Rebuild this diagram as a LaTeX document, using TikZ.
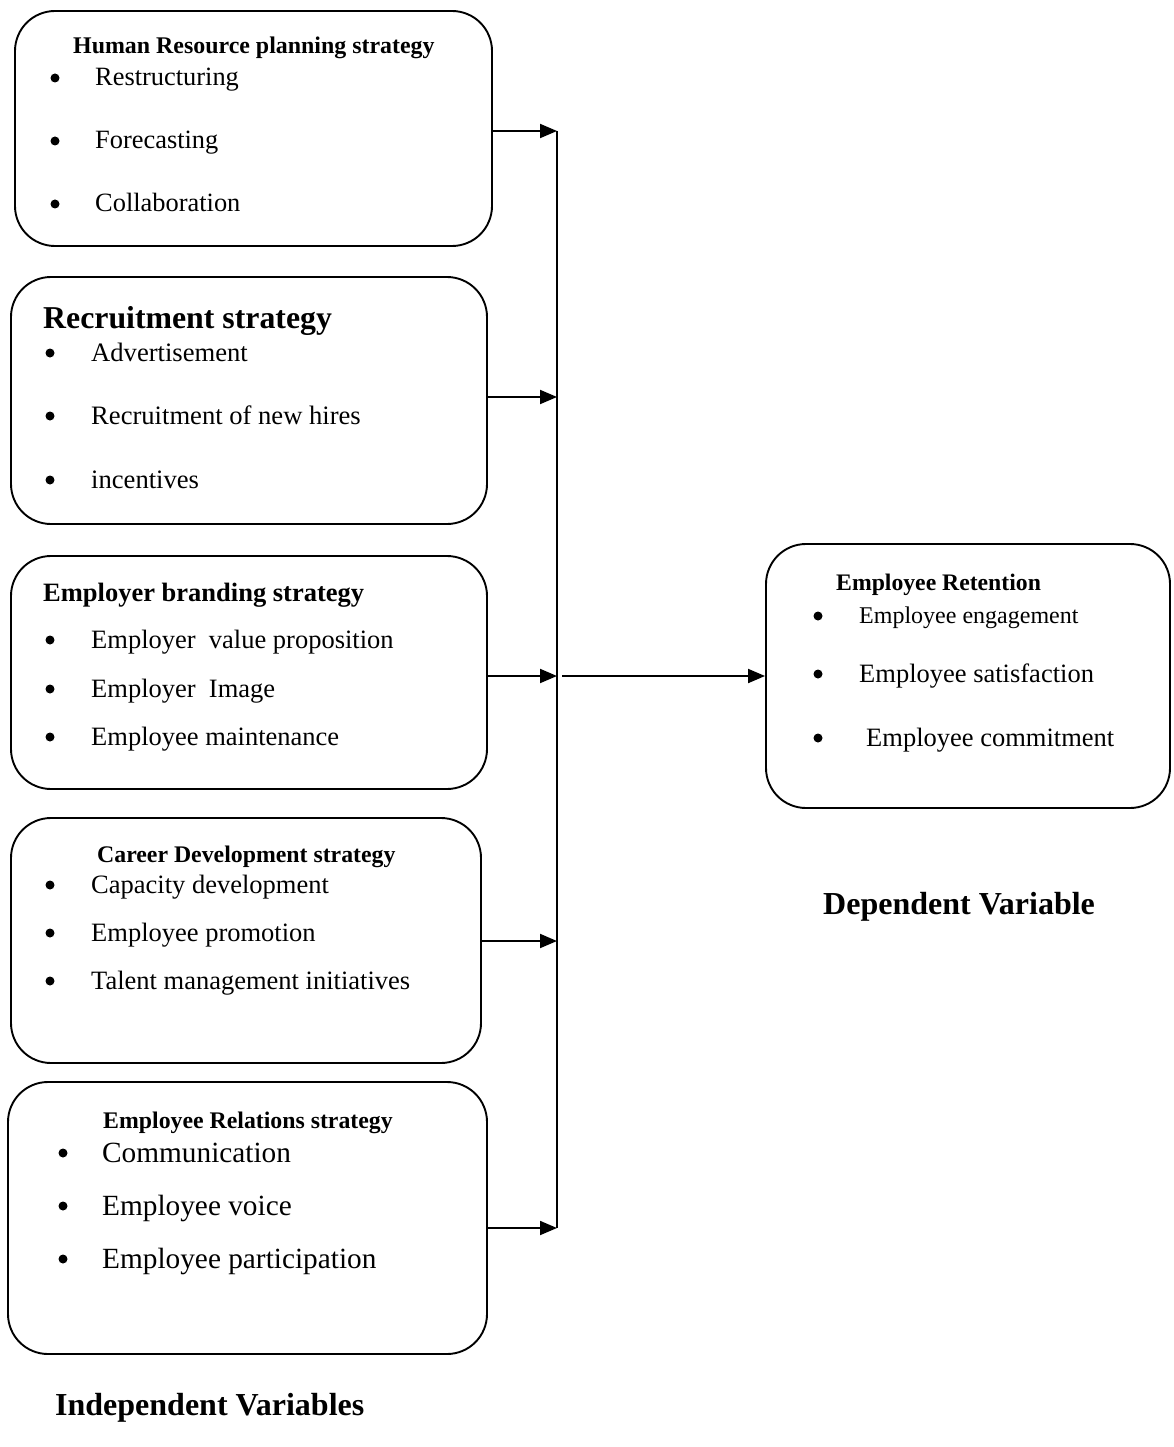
\documentclass[tikz,border=0pt]{standalone}
\usepackage{fontspec}
\setmainfont{Liberation Serif}
\usetikzlibrary{arrows.meta}
\newcommand\myfs[1]{\fontsize{#1}{#1}\selectfont}
\tikzset{
  box/.style={draw, line width=1.9pt, rounded corners=40pt, inner sep=0pt},
  arr/.style={line width=1.9pt, -{Triangle[length=17pt,width=14pt]}},
  txt/.style={anchor=base west, inner sep=0pt},
  bul/.style={circle, fill, inner sep=0pt, minimum size=9pt},
}
\begin{document}
\begin{tikzpicture}[x=1pt,y=-1pt]
\useasboundingbox (0,0) rectangle (1173,1447);
% boxes
\node[box, minimum width=477pt, minimum height=235pt] (b1) at (253.5,128.5) {};
\node[box, minimum width=476pt, minimum height=247pt] (b2) at (249,400.5) {};
\node[box, minimum width=476pt, minimum height=233pt] (b3) at (249,672.5) {};
\node[box, minimum width=470pt, minimum height=245pt] (b4) at (246,940.5) {};
\node[box, minimum width=479pt, minimum height=272pt] (b5) at (247.5,1218) {};
\node[box, minimum width=404pt, minimum height=264pt] (b6) at (968,676) {};
% box 1
\node[txt] (t1) at (73,54) {\myfs{23.9}\bfseries Human Resource planning strategy};
\node[bul] (p1a) at (55,78) {};
\node[bul] (p1b) at (55,141) {};
\node[bul] (p1c) at (55,204) {};
\node[txt] (i1a) at (95,86) {\myfs{26.4}Restructuring};
\node[txt] (i1b) at (95,149) {\myfs{26.4}Forecasting};
\node[txt] (i1c) at (95,212) {\myfs{26.4}Collaboration};
% box 2
\node[txt] (t2) at (43,328) {\myfs{31.8}\bfseries Recruitment strategy};
\node[bul] (p2a) at (50,353) {};
\node[bul] (p2b) at (50,416) {};
\node[bul] (p2c) at (50,480) {};
\node[txt] (i2a) at (91,361) {\myfs{26.6}Advertisement};
\node[txt] (i2b) at (91,424) {\myfs{26.6}Recruitment of new hires};
\node[txt] (i2c) at (91,488) {\myfs{26.6}incentives};
% box 3
\node[txt] (t3) at (43,601) {\myfs{26.5}\bfseries Employer branding strategy};
\node[bul] (p3a) at (50,640) {};
\node[bul] (p3b) at (50,689) {};
\node[bul] (p3c) at (50,737) {};
\node[txt] (i3a) at (91,648) {\myfs{26.5}Employer\ \ value proposition};
\node[txt] (i3b) at (91,697) {\myfs{26.5}Employer\ \ Image};
\node[txt] (i3c) at (91,745) {\myfs{26.5}Employee maintenance};
% box 4
\node[txt] (t4) at (97,862) {\myfs{23.8}\bfseries Career Development strategy};
\node[bul] (p4a) at (50,885) {};
\node[bul] (p4b) at (50,933) {};
\node[bul] (p4c) at (50,981) {};
\node[txt] (i4a) at (91,893) {\myfs{26.5}Capacity development};
\node[txt] (i4b) at (91,941) {\myfs{26.5}Employee promotion};
\node[txt] (i4c) at (91,989) {\myfs{26.5}Talent management initiatives};
% box 5
\node[txt] (t5) at (103,1128) {\myfs{23.8}\bfseries Employee Relations strategy};
\node[bul] (p5a) at (63,1153) {};
\node[bul] (p5b) at (63,1206) {};
\node[bul] (p5c) at (63,1259) {};
\node[txt] (i5a) at (102,1162) {\myfs{29.3}Communication};
\node[txt] (i5b) at (102,1215) {\myfs{29.3}Employee voice};
\node[txt] (i5c) at (102,1268) {\myfs{29.3}Employee participation};
% box 6
\node[txt] (t6) at (836,590) {\myfs{23.7}\bfseries Employee Retention};
\node[bul] (p6a) at (818,616) {};
\node[bul] (p6b) at (818,674) {};
\node[bul] (p6c) at (818,738) {};
\node[txt] (i6a) at (859,623) {\myfs{24}Employee engagement};
\node[txt] (i6b) at (859,682) {\myfs{26.5}Employee satisfaction};
\node[txt] (i6c) at (866,746) {\myfs{26.5}Employee commitment};
% labels
\node[txt] (dep) at (823,914) {\myfs{32}\bfseries Dependent Variable};
\node[txt] (ind) at (55,1415) {\myfs{32}\bfseries Independent Variables};
% connectors
\coordinate (busT) at (557,131);
\coordinate (busB) at (557,1228);
\coordinate (mid) at (562,676);
\draw[line width=1.9pt] (busT) -- (busB);
\draw[arr] (b1.east |- busT) -- (busT);
\draw[arr] (b2.east |- 0,397) -- (busT |- 0,397);
\draw[arr] (b3.east |- 0,676) -- (busT |- 0,676);
\draw[arr] (b4.east |- 0,941) -- (busT |- 0,941);
\draw[arr] (b5.east |- busB) -- (busB);
\draw[arr] (mid) -- (b6.west);
\end{tikzpicture}
\end{document}
